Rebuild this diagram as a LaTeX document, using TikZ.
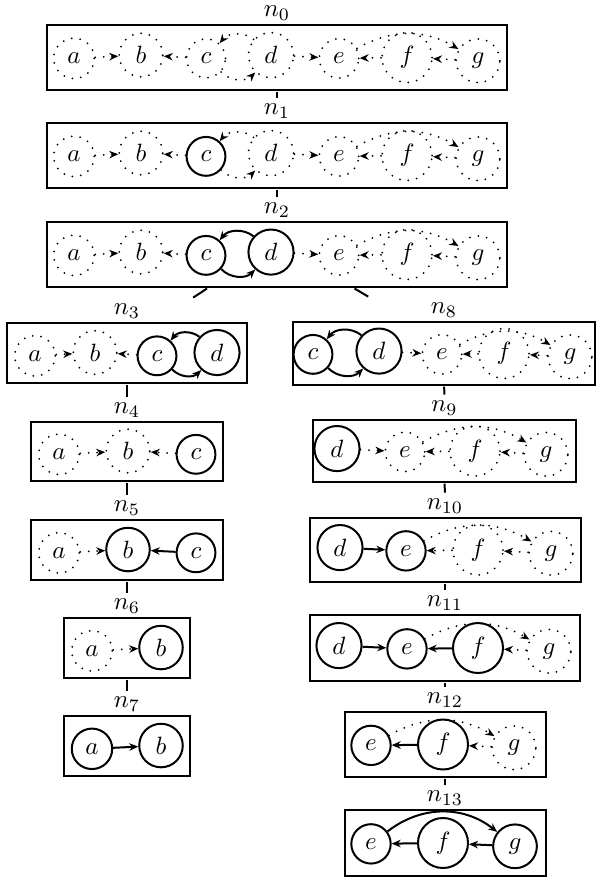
\documentclass[tikz,border=0pt]{standalone}
\usetikzlibrary{arrows.meta,fit}
\begin{document}
\begin{tikzpicture}[x=0.4pt,y=-0.4pt,
  sv/.style={circle, draw, thick, inner sep=3.33pt, anchor=base},
  dv/.style={circle, draw, line width=0.8pt, dash pattern=on 0pt off 3.4pt, line cap=round, inner sep=3.33pt, anchor=base},
  se/.style={thick, -{Stealth[length=3.6pt,width=3pt]}},
  de/.style={line width=0.8pt, dash pattern=on 0pt off 3.4pt, line cap=round, -{Stealth[length=3.6pt,width=3pt]}},
  box/.style={draw, thick, rectangle, inner sep=0pt},
  lab/.style={anchor=base, inner sep=2pt},
  grp/.style={inner sep=0pt},
  tr/.style={thick}]
\useasboundingbox (0,0) rectangle (596,881);

% ---------------- n0
\node[box, minimum width=184pt, minimum height=26pt] (B0) at (277,57.5) {};
\node[lab] (l0) at ([yshift=3.04pt]B0.north) {$n_0$};
\node[grp, fit=(l0)(B0)] (t0) {};
\node[dv] (a0) at (74,63.75) {$a$};
\node[dv] (b0) at (141,63.75) {$b$};
\node[dv] (c0) at (206,63.75) {$c$};
\node[dv] (d0) at (271,63.75) {$d$};
\node[dv] (e0) at (339,63.75) {$e$};
\node[dv] (f0) at (407,63.75) {$f$};
\node[dv] (g0) at (478,63.75) {$g$};
\draw[de] (a0) -- (b0);
\draw[de] (c0) -- (b0);
\draw[de] (d0) to[bend right=45] (c0);
\draw[de] (c0) to[bend right=45] (d0);
\draw[de] (d0) -- (e0);
\draw[de] (f0) -- (e0);
\draw[de] (g0) -- (f0);
\draw[de] (e0) to[bend left=30] (g0);

% ---------------- n1
\node[box, minimum width=184pt, minimum height=26pt] (B1) at (277,155.5) {};
\node[lab] (l1) at ([yshift=3.04pt]B1.north) {$n_1$};
\node[grp, fit=(l1)(B1)] (t1) {};
\node[dv] (a1) at (74,161.75) {$a$};
\node[dv] (b1) at (141,161.75) {$b$};
\node[sv] (c1) at (206,161.75) {$c$};
\node[dv] (d1) at (271,161.75) {$d$};
\node[dv] (e1) at (339,161.75) {$e$};
\node[dv] (f1) at (407,161.75) {$f$};
\node[dv] (g1) at (478,161.75) {$g$};
\draw[de] (a1) -- (b1);
\draw[de] (c1) -- (b1);
\draw[de] (d1) to[bend right=45] (c1);
\draw[de] (c1) to[bend right=45] (d1);
\draw[de] (d1) -- (e1);
\draw[de] (f1) -- (e1);
\draw[de] (g1) -- (f1);
\draw[de] (e1) to[bend left=30] (g1);

% ---------------- n2
\node[box, minimum width=184pt, minimum height=26pt] (B2) at (277,254.5) {};
\node[lab] (l2) at ([yshift=3.04pt]B2.north) {$n_2$};
\node[grp, fit=(l2)(B2)] (t2) {};
\node[dv] (a2) at (74,260.75) {$a$};
\node[dv] (b2) at (141,260.75) {$b$};
\node[sv] (c2) at (206,260.75) {$c$};
\node[sv] (d2) at (271,260.75) {$d$};
\node[dv] (e2) at (339,260.75) {$e$};
\node[dv] (f2) at (407,260.75) {$f$};
\node[dv] (g2) at (478,260.75) {$g$};
\draw[de] (a2) -- (b2);
\draw[de] (c2) -- (b2);
\draw[se] (d2) to[bend right=45] (c2);
\draw[se] (c2) to[bend right=45] (d2);
\draw[de] (d2) -- (e2);
\draw[de] (f2) -- (e2);
\draw[de] (g2) -- (f2);
\draw[de] (e2) to[bend left=30] (g2);

% ---------------- n3
\node[box, minimum width=96pt, minimum height=24pt] (B3) at (127,353) {};
\node[lab] (l3) at ([yshift=3.04pt]B3.north) {$n_3$};
\node[grp, fit=(l3)(B3)] (t3) {};
\node[dv] (a3) at (35,361.2) {$a$};
\node[dv] (b3) at (95,361.2) {$b$};
\node[sv] (c3) at (157,361.2) {$c$};
\node[sv] (d3) at (217,361.2) {$d$};
\draw[de] (a3) -- (b3);
\draw[de] (c3) -- (b3);
\draw[se] (d3) to[bend right=45] (c3);
\draw[se] (c3) to[bend right=45] (d3);

% ---------------- n4
\node[box, minimum width=76.4pt, minimum height=23.6pt] (B4) at (127,451.5) {};
\node[lab] (l4) at ([yshift=3.04pt]B4.north) {$n_4$};
\node[grp, fit=(l4)(B4)] (t4) {};
\node[dv] (a4) at (59,459.7) {$a$};
\node[dv] (b4) at (128,459.7) {$b$};
\node[sv] (c4) at (196,459.7) {$c$};
\draw[de] (a4) -- (b4);
\draw[de] (c4) -- (b4);

% ---------------- n5
\node[box, minimum width=76.4pt, minimum height=24pt] (B5) at (127,550) {};
\node[lab] (l5) at ([yshift=3.04pt]B5.north) {$n_5$};
\node[grp, fit=(l5)(B5)] (t5) {};
\node[dv] (a5) at (59,558.2) {$a$};
\node[sv] (b5) at (128,558.2) {$b$};
\node[sv] (c5) at (196,558.2) {$c$};
\draw[de] (a5) -- (b5);
\draw[se] (c5) -- (b5);

% ---------------- n6
\node[box, minimum width=50.4pt, minimum height=24pt] (B6) at (127,648) {};
\node[lab] (l6) at ([yshift=3.04pt]B6.north) {$n_6$};
\node[grp, fit=(l6)(B6)] (t6) {};
\node[dv] (a6) at (92,656.2) {$a$};
\node[sv] (b6) at (161,656.2) {$b$};
\draw[de] (a6) -- (b6);

% ---------------- n7
\node[box, minimum width=50.4pt, minimum height=24pt] (B7) at (127,746) {};
\node[lab] (l7) at ([yshift=3.04pt]B7.north) {$n_7$};
\node[grp, fit=(l7)(B7)] (t7) {};
\node[sv] (a7) at (92,754.2) {$a$};
\node[sv] (b7) at (161,754.2) {$b$};
\draw[se] (a7) -- (b7);

% ---------------- n8
\node[box, minimum width=120.8pt, minimum height=25.2pt] (B8) at (444,353.5) {};
\node[lab] (l8) at ([yshift=3.04pt]B8.north) {$n_8$};
\node[grp, fit=(l8)(B8)] (t8) {};
\node[sv] (c8) at (313,359.75) {$c$};
\node[sv] (d8) at (379,359.75) {$d$};
\node[dv] (e8) at (442,359.75) {$e$};
\node[dv] (f8) at (504,359.75) {$f$};
\node[dv] (g8) at (570,359.75) {$g$};
\draw[se] (d8) to[bend right=45] (c8);
\draw[se] (c8) to[bend right=45] (d8);
\draw[de] (d8) -- (e8);
\draw[de] (f8) -- (e8);
\draw[de] (g8) -- (f8);
\draw[de] (e8) to[bend left=30] (g8);

% ---------------- n9
\node[box, minimum width=105.2pt, minimum height=24.8pt] (B9) at (444.5,451) {};
\node[lab] (l9) at ([yshift=3.04pt]B9.north) {$n_9$};
\node[grp, fit=(l9)(B9)] (t9) {};
\node[sv] (d9) at (337,457.25) {$d$};
\node[dv] (e9) at (405,457.25) {$e$};
\node[dv] (f9) at (475,457.25) {$f$};
\node[dv] (g9) at (546,457.25) {$g$};
\draw[de] (d9) -- (e9);
\draw[de] (f9) -- (e9);
\draw[de] (g9) -- (f9);
\draw[de] (e9) to[bend left=30] (g9);

% ---------------- n10
\node[box, minimum width=108.4pt, minimum height=25.6pt] (B10) at (445,550) {};
\node[lab] (l10) at ([yshift=3.04pt]B10.north) {$n_{10}$};
\node[grp, fit=(l10)(B10)] (t10) {};
\node[sv] (d10) at (340,556.25) {$d$};
\node[sv] (e10) at (406,556.25) {$e$};
\node[dv] (f10) at (478,556.25) {$f$};
\node[dv] (g10) at (551,556.25) {$g$};
\draw[se] (d10) -- (e10);
\draw[de] (f10) -- (e10);
\draw[de] (g10) -- (f10);
\draw[de] (e10) to[bend left=30] (g10);

% ---------------- n11
\node[box, minimum width=108pt, minimum height=26.4pt] (B11) at (445,648) {};
\node[lab] (l11) at ([yshift=3.04pt]B11.north) {$n_{11}$};
\node[grp, fit=(l11)(B11)] (t11) {};
\node[sv] (d11) at (339,654.25) {$d$};
\node[sv] (e11) at (407,654.25) {$e$};
\node[sv] (f11) at (478,654.25) {$f$};
\node[dv] (g11) at (549,654.25) {$g$};
\draw[se] (d11) -- (e11);
\draw[se] (f11) -- (e11);
\draw[de] (g11) -- (f11);
\draw[de] (e11) to[bend left=30] (g11);

% ---------------- n12
\node[box, minimum width=80.4pt, minimum height=26pt] (B12) at (445,744.5) {};
\node[lab] (l12) at ([yshift=3.04pt]B12.north) {$n_{12}$};
\node[grp, fit=(l12)(B12)] (t12) {};
\node[sv] (e12) at (371,750.75) {$e$};
\node[sv] (f12) at (443,750.75) {$f$};
\node[dv] (g12) at (514,750.75) {$g$};
\draw[se] (f12) -- (e12);
\draw[de] (g12) -- (f12);
\draw[de] (e12) to[bend left=30] (g12);

% ---------------- n13
\node[box, minimum width=80.4pt, minimum height=26.4pt] (B13) at (445,843) {};
\node[lab] (l13) at ([yshift=3.04pt]B13.north) {$n_{13}$};
\node[grp, fit=(l13)(B13)] (t13) {};
\node[sv] (e13) at (371,849.25) {$e$};
\node[sv] (f13) at (443,849.25) {$f$};
\node[sv] (g13) at (515,849.25) {$g$};
\draw[se] (f13) -- (e13);
\draw[se] (g13) -- (f13);
\draw[se] (e13) to[bend left=38] (g13);

% ---------------- tree
\draw[tr] (t0) -- (t1);
\draw[tr] (t1) -- (t2);
\draw[tr] (t2) -- (t3);
\draw[tr] (t2) -- (t8);
\draw[tr] (t3) -- (t4);
\draw[tr] (t4) -- (t5);
\draw[tr] (t5) -- (t6);
\draw[tr] (t6) -- (t7);
\draw[tr] (t8) -- (t9);
\draw[tr] (t9) -- (t10);
\draw[tr] (t10) -- (t11);
\draw[tr] (t11) -- (t12);
\draw[tr] (t12) -- (t13);
\end{tikzpicture}
\end{document}
